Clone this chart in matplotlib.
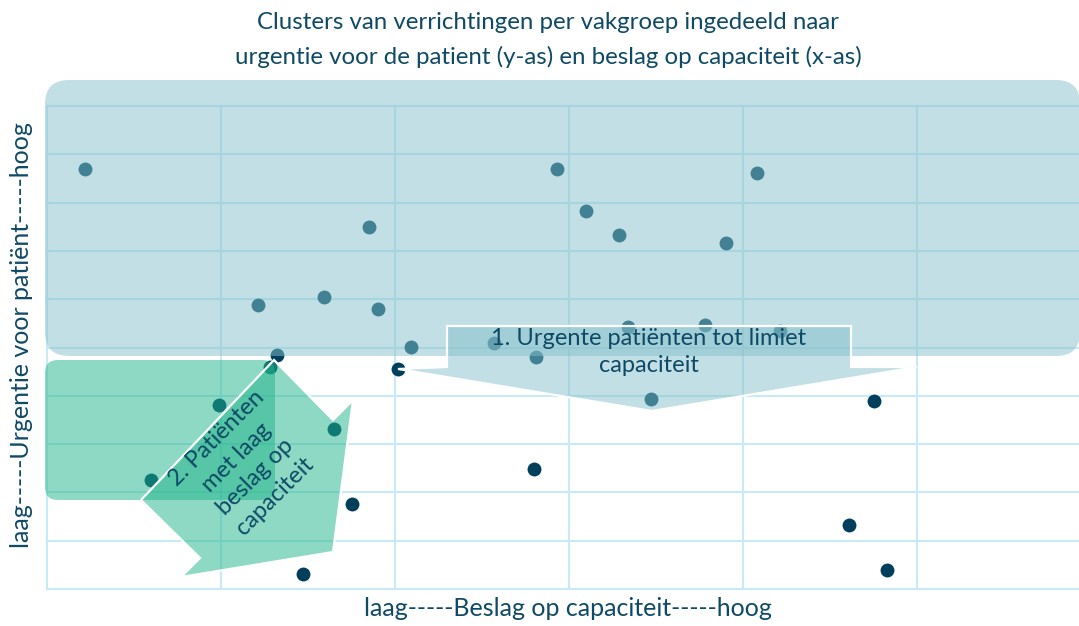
import matplotlib
matplotlib.use("Agg")
import matplotlib.pyplot as plt
from matplotlib.patches import FancyBboxPatch, Polygon

# ---- data ----
beslag = [0.22, 1.21, 1.59, 1.85, 1.90, 2.09, 1.32, 1.28, 0.99, 0.60,
          1.65, 1.75, 1.47, 2.02, 2.57, 2.81, 2.80, 2.93, 3.10, 3.29,
          3.34, 3.47, 3.78, 3.90, 4.08, 4.21, 4.75, 4.61, 4.83]
urgentie = [8.70, 5.88, 6.05, 7.50, 5.80, 5.01, 4.84, 4.60, 3.81, 2.26,
            3.31, 1.76, 0.31, 4.55, 5.09, 4.80, 2.48, 8.70, 7.83, 7.33,
            5.42, 3.93, 5.47, 7.16, 8.61, 5.34, 3.89, 1.33, 0.39]

title_text = ("Clusters van verrichtingen per vakgroep ingedeeld naar\n"
              "urgentie voor de patient (y-as) en beslag op capaciteit (x-as)")
xlabel_text = "laag-----Beslag op capaciteit-----hoog"
ylabel_text = "laag-----Urgentie voor patiënt-----hoog"
label_1 = "1. Urgente patiënten tot limiet\ncapaciteit"
label_2 = "2. Patiënten\nmet laag\nbeslag op\ncapaciteit"

# ---- style ----
W, H = 1079, 626
TXT = "#0e4a66"
DOT = "#003f5c"
GRID = "#c8eaf7"
BLUE = "#85c1cb"
GREEN = "#1fb58a"
plt.rcParams["font.family"] = ["Lato", "DejaVu Sans"]

fig = plt.figure(figsize=(W / 100, H / 100), dpi=100)

# main axes: plot area from x=47px to 1091px (beyond right edge), y=106px..589px
L, R, T, B = 47, 1091, 106, 589
ax = fig.add_axes([L / W, (H - B) / H, (R - L) / W, (B - T) / H])
ax.set_xlim(0, 6)
ax.set_ylim(0, 10)
ax.set_xticks(range(0, 7))
ax.set_yticks(range(0, 11))
ax.tick_params(length=0, labelbottom=False, labelleft=False)
ax.grid(True, color=GRID, linewidth=1.5, zorder=0)
for sp in ax.spines.values():
    sp.set_visible(False)
for gl in ax.get_xgridlines() + ax.get_ygridlines():
    gl.set_clip_on(False)
ax.set_axisbelow(True)
ax.scatter(beslag, urgentie, s=100, color=DOT, linewidths=0, zorder=3)

# overlay axes in pixel coordinates
ov = fig.add_axes([0, 0, 1, 1], zorder=5)
ov.set_xlim(0, W)
ov.set_ylim(H, 0)
ov.axis("off")
ov.patch.set_alpha(0)

# blue rounded panel
ov.add_patch(FancyBboxPatch((45, 80), 1035, 276,
                            boxstyle="round,pad=0,rounding_size=24",
                            facecolor=BLUE, alpha=0.5, edgecolor="none"))
# green rounded panel
ov.add_patch(FancyBboxPatch((45, 360), 230, 140,
                            boxstyle="round,pad=0,rounding_size=13",
                            facecolor=GREEN, alpha=0.5, edgecolor="none"))

# blue down-arrow callout
blue_arrow = [(447, 326), (851, 326), (851, 367), (917, 367), (652, 411),
              (398, 369), (447, 367)]
ov.add_patch(Polygon(blue_arrow, closed=True, facecolor=BLUE, alpha=0.5,
                     edgecolor="none"))
ov.add_patch(Polygon(blue_arrow, closed=True, facecolor="none",
                     edgecolor="white", linewidth=1.6))

# green diagonal arrow callout
green_arrow = [(141, 500), (274, 360), (333, 420), (353, 400), (333, 552),
               (181, 577), (200, 558)]
ov.add_patch(Polygon(green_arrow, closed=True, facecolor=GREEN, alpha=0.5,
                     edgecolor="none"))
ov.add_patch(Polygon(green_arrow, closed=True, facecolor="none",
                     edgecolor="white", linewidth=1.6))

# texts
ov.text(548, 40, title_text, ha="center", va="center", fontsize=17.3,
        color=TXT, linespacing=1.68)
ov.text(568, 609, xlabel_text, ha="center", va="center", fontsize=18,
        color=TXT)
ov.text(22, 335, ylabel_text, ha="center", va="center", fontsize=18,
        color=TXT, rotation=90)
ov.text(649, 352, label_1, ha="center", va="center", fontsize=17,
        color=TXT, linespacing=1.3)
ov.text(246, 467, label_2, ha="center", va="center", fontsize=17,
        color=TXT, linespacing=1.38, rotation=45, rotation_mode="anchor")

fig.savefig("out.png", dpi=100)
